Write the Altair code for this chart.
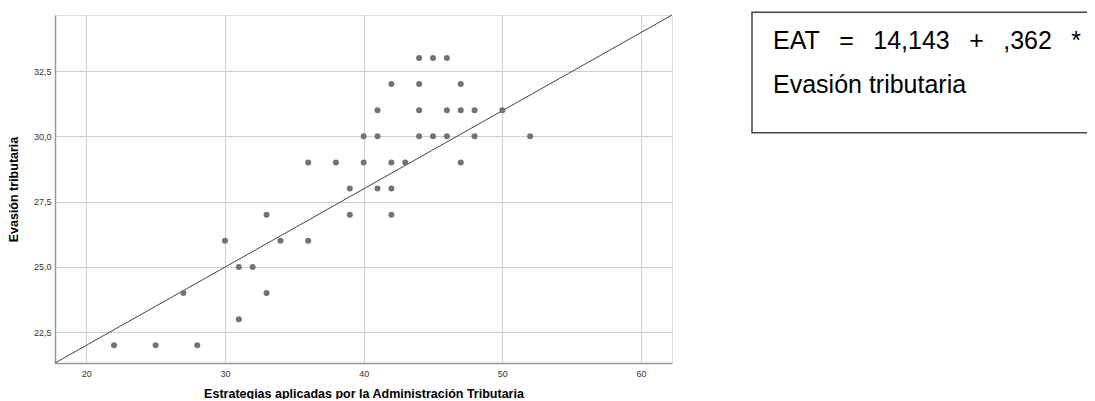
import altair as alt
import pandas as pd

# Scatter data: Estrategias aplicadas (x) vs Evasión tributaria (y)
x_vals = [44, 45, 46,
          42, 44, 47,
          41, 44, 46, 47, 48, 50,
          40, 41, 44, 45, 46, 48, 52,
          36, 38, 40, 42, 43, 47,
          39, 41, 42,
          33, 39, 42,
          30, 34, 36,
          31, 32,
          27, 33,
          31,
          22, 25, 28]
y_vals = [33, 33, 33,
          32, 32, 32,
          31, 31, 31, 31, 31, 31,
          30, 30, 30, 30, 30, 30, 30,
          29, 29, 29, 29, 29, 29,
          28, 28, 28,
          27, 27, 27,
          26, 26, 26,
          25, 25,
          24, 24,
          23,
          22, 22, 22]

x_domain = [17.743, 62.235]
y_domain = [21.324, 34.646]
line_x = [17.743, 62.235]
line_y = [21.324, 34.646]
x_ticks = [20, 30, 40, 50, 60]
y_ticks = [22.5, 25.0, 27.5, 30.0, 32.5]

x_title = "Estrategias aplicadas por la Administración Tributaria"
y_title = "Evasión tributaria"
GAP = "\u00a0\u2002"
eq_line1 = GAP.join(["EAT", "=", "14,143", "+", ",362", "*"])
eq_line2 = "Evasión tributaria"

FONT = "Liberation Sans"

pts = pd.DataFrame({"x": x_vals, "y": y_vals})
ln = pd.DataFrame({"x": line_x, "y": line_y})

xscale = alt.Scale(domain=x_domain, nice=False, zero=False)
yscale = alt.Scale(domain=y_domain, nice=False, zero=False)

xaxis = alt.Axis(values=x_ticks, title=x_title, grid=True, ticks=False,
                 labelFont=FONT, labelFontSize=9, labelColor="#333333",
                 labelPadding=6, titleFont=FONT, titleFontSize=12.5,
                 titleFontWeight="bold", titleColor="#000000", titlePadding=9,
                 domainColor="#999999", domainWidth=1.5,
                 gridColor="#d0d0d0", gridWidth=1)
yaxis = alt.Axis(values=y_ticks, title=y_title, grid=True, ticks=False,
                 labelExpr="replace(format(datum.value, '.1f'), '.', ',')",
                 labelFont=FONT, labelFontSize=9, labelColor="#333333",
                 labelPadding=4, titleFont=FONT, titleFontSize=12.5,
                 titleFontWeight="bold", titleColor="#000000", titlePadding=13,
                 domainColor="#999999", domainWidth=1.5,
                 gridColor="#d0d0d0", gridWidth=1)

points = alt.Chart(pts).mark_circle(size=36, color="#737373", opacity=1).encode(
    x=alt.X("x:Q", scale=xscale, axis=xaxis),
    y=alt.Y("y:Q", scale=yscale, axis=yaxis),
)

fit = alt.Chart(ln).mark_line(color="#444444", strokeWidth=1).encode(
    x=alt.X("x:Q", scale=xscale),
    y=alt.Y("y:Q", scale=yscale),
)

box = alt.Chart(pd.DataFrame({"a": [0]})).mark_rect(
    fillOpacity=0, stroke="#444444", strokeWidth=1.5, clip=False
).encode(
    x=alt.value(697), x2=alt.value(1045), y=alt.value(-2.7), y2=alt.value(117.7)
)

txt1 = alt.Chart(pd.DataFrame({"t": [eq_line1]})).mark_text(
    align="left", baseline="alphabetic", font=FONT, fontSize=25, color="#000000"
).encode(text="t:N", x=alt.value(718), y=alt.value(34.3))

txt2 = alt.Chart(pd.DataFrame({"t": [eq_line2]})).mark_text(
    align="left", baseline="alphabetic", font=FONT, fontSize=25, color="#000000"
).encode(text="t:N", x=alt.value(718), y=alt.value(78.3))

chart = alt.layer(fit, points, box, txt1, txt2).properties(
    width=617, height=348,
    autosize=alt.AutoSizeParams(type="none"),
    padding={"left": 47, "top": 7, "right": 415, "bottom": 36},
).configure_view(stroke=None).configure(background="white")

chart.save("out.html", embed_options={"renderer": "svg", "actions": False})
